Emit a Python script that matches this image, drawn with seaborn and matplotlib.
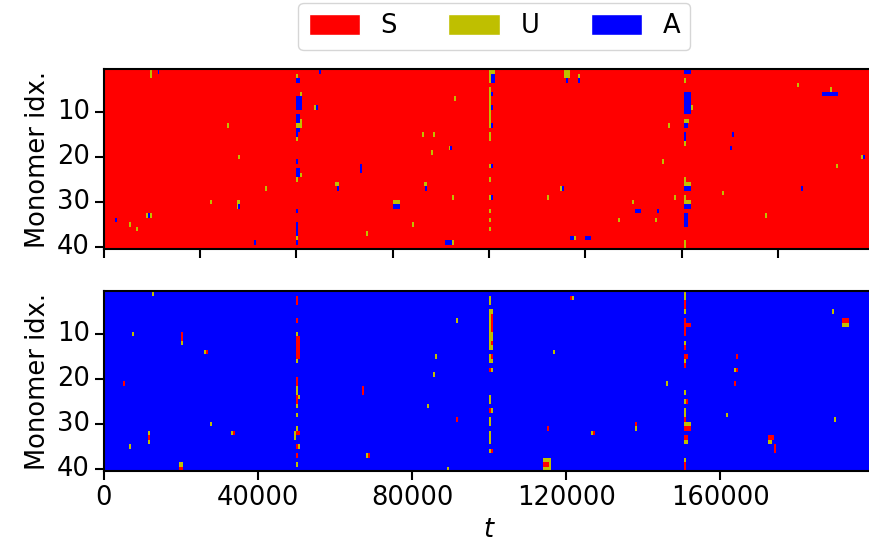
import numpy as np
import seaborn as sns
import matplotlib
matplotlib.use('Agg')
import matplotlib.pyplot as plt
from matplotlib.colors import ListedColormap
from matplotlib.patches import Patch

# states of a monomer and their colours
states = ['S', 'U', 'A']
state_colors = ['red', (0.75, 0.75, 0.0), 'blue']
n_monomers = 40
t_max = 200000
dt = 500

ytick_vals = [10, 20, 30, 40]
top_xtick_vals = [0, 25000, 50000, 75000, 100000, 125000, 150000, 175000]
bot_xtick_vals = [0, 40000, 80000, 120000, 160000]

# events: (t start, t end, first monomer, last monomer)
# top panel: background S
top_U = [
    (50000, 50500, 2, 2), (51000, 51500, 6, 6), (54500, 55000, 9, 9),
    (50000, 50500, 11, 11), (51000, 51500, 12, 12), (50000, 51500, 13, 13),
    (50000, 50500, 16, 16), (51000, 51500, 24, 24), (50000, 50500, 25, 25),
    (50000, 50500, 38, 38),
    (100000, 101500, 1, 3), (100000, 100500, 5, 10), (100000, 100500, 11, 13),
    (100000, 100500, 15, 16), (100000, 101000, 22, 22), (100000, 100500, 25, 25),
    (100000, 101000, 29, 29), (100000, 100500, 32, 32), (100000, 100500, 34, 34),
    (100000, 100500, 36, 36),
    (150500, 151000, 3, 3), (152500, 153000, 9, 9), (150500, 152000, 12, 12),
    (150500, 151000, 17, 17), (150500, 151000, 25, 26), (150500, 152500, 26, 26),
    (150500, 151000, 29, 29), (150500, 152500, 30, 30), (150500, 151000, 39, 40),
    (12000, 12500, 1, 2), (32000, 32500, 13, 13), (35000, 35500, 20, 20),
    (42000, 42500, 27, 27), (27500, 28000, 30, 30), (34500, 35500, 30, 31),
    (11000, 12500, 33, 33), (6500, 7000, 35, 35), (8500, 9000, 36, 36),
    (60000, 61000, 26, 26), (82500, 83000, 15, 15), (85500, 86000, 15, 15),
    (85000, 85500, 19, 19), (89500, 90000, 18, 18), (91000, 91500, 7, 7),
    (83000, 84000, 26, 26), (90500, 91000, 29, 29), (75000, 77000, 30, 30),
    (80000, 80500, 35, 35), (68000, 68500, 37, 37), (90500, 91000, 39, 39),
    (119500, 121000, 1, 2), (123000, 123500, 2, 2), (180000, 180500, 4, 4),
    (188500, 189000, 5, 5), (146500, 147000, 13, 13), (196500, 197000, 20, 20),
    (145000, 145500, 21, 21), (190000, 190500, 22, 22), (118500, 119000, 27, 27),
    (160500, 161000, 28, 28), (115000, 115500, 29, 29), (148000, 148500, 29, 29),
    (137000, 137500, 30, 30), (133500, 134000, 34, 34), (143000, 143500, 34, 34),
    (171500, 172000, 33, 33), (122000, 122500, 38, 38),
]
top_A = [
    (50000, 51000, 3, 3), (50000, 51500, 7, 9), (55000, 55500, 9, 9),
    (50000, 51000, 11, 12), (50000, 50500, 14, 15), (50500, 51000, 14, 14),
    (50000, 50500, 21, 21), (50000, 51000, 23, 24), (50000, 50500, 32, 32),
    (50000, 50500, 35, 37), (50000, 50500, 39, 39), (56000, 56500, 1, 1),
    (100500, 101500, 2, 3), (100500, 101000, 6, 6), (100500, 101000, 9, 9),
    (100500, 101000, 13, 13), (100500, 101000, 22, 22), (100500, 101000, 29, 29),
    (150500, 152500, 1, 1), (150500, 152500, 6, 10), (150500, 151500, 13, 13),
    (150500, 151000, 15, 16), (150500, 152500, 27, 27), (150500, 152500, 31, 31),
    (150500, 151500, 33, 35),
    (14000, 14500, 1, 1), (35000, 35500, 31, 31), (11500, 12000, 33, 33),
    (3000, 3500, 34, 34), (39000, 39500, 39, 39), (66500, 67000, 22, 23),
    (60500, 61000, 27, 27), (90000, 90500, 18, 18), (83500, 84000, 27, 27),
    (75000, 77000, 31, 31), (88500, 90500, 39, 39), (120000, 120500, 3, 3),
    (123000, 123500, 3, 3), (186500, 190500, 6, 6), (163000, 163500, 15, 15),
    (162500, 163000, 18, 18), (197000, 197500, 20, 20), (119000, 119500, 27, 27),
    (181000, 181500, 27, 27), (138000, 139500, 32, 32), (143500, 144000, 32, 32),
    (121000, 122000, 38, 38), (125000, 126500, 38, 38),
]

# bottom panel: background A
bot_U = [
    (12500, 13000, 1, 1), (7500, 8000, 10, 10), (20000, 20500, 12, 12),
    (26000, 27000, 14, 14), (27500, 28000, 30, 30), (33000, 34000, 32, 32),
    (11500, 12000, 32, 34), (6500, 7000, 35, 35), (19500, 20500, 39, 39),
    (50000, 50500, 10, 10), (50500, 51000, 13, 13), (50000, 50500, 16, 16),
    (50000, 50500, 22, 23), (50500, 51000, 24, 24), (50000, 50500, 26, 26),
    (50000, 50500, 28, 28), (50000, 50500, 31, 31), (49500, 50000, 32, 33),
    (50500, 51000, 35, 35), (50000, 50500, 39, 39),
    (68000, 68500, 37, 37), (89000, 89500, 40, 40), (91500, 92000, 7, 7),
    (86000, 86500, 15, 15), (85500, 86000, 19, 19), (84000, 84500, 26, 26),
    (100000, 100500, 2, 3), (100000, 101000, 5, 10), (100000, 101000, 11, 13),
    (100000, 101000, 15, 16), (100500, 101000, 18, 18), (100000, 100500, 24, 25),
    (100500, 101000, 27, 27), (100000, 100500, 29, 30), (100000, 100500, 32, 34),
    (100000, 100500, 36, 36),
    (121500, 122000, 2, 2), (116500, 117000, 14, 14), (146000, 146500, 21, 21),
    (126500, 127500, 32, 32), (138000, 138500, 31, 31), (114000, 116000, 38, 40),
    (150500, 151000, 1, 2), (150500, 151000, 5, 5), (150500, 151000, 12, 12),
    (150500, 151000, 16, 17), (150500, 151000, 23, 23), (150500, 151000, 25, 25),
    (150500, 151000, 27, 28), (150500, 152500, 30, 30), (150500, 151500, 34, 34),
    (150500, 151000, 38, 38),
    (163500, 164500, 18, 18), (161500, 162000, 28, 28), (172500, 173500, 34, 34),
    (189500, 190000, 29, 29), (191500, 193500, 8, 8), (189000, 189500, 5, 5),
]
bot_S = [
    (20000, 20500, 10, 11), (26500, 27000, 14, 14), (5000, 5500, 21, 21),
    (33500, 34000, 32, 32), (11500, 12000, 33, 33), (19500, 20500, 40, 40),
    (50000, 50500, 2, 3), (50000, 50500, 7, 7), (50000, 51000, 11, 15),
    (50000, 50500, 20, 21), (50000, 50500, 24, 25), (50000, 51000, 32, 32),
    (50000, 50500, 35, 35), (50000, 50500, 37, 37),
    (67000, 67500, 22, 23), (68500, 69000, 37, 37), (91500, 92000, 29, 29),
    (100500, 101000, 6, 9), (100500, 101000, 12, 12), (100500, 101000, 15, 15),
    (100000, 100500, 18, 18), (100000, 100500, 27, 27), (100500, 101000, 36, 36),
    (121000, 121500, 2, 2), (115000, 115500, 31, 31), (127000, 127500, 32, 32),
    (138000, 138500, 30, 30), (114000, 115500, 39, 39),
    (150500, 151000, 3, 4), (150500, 151000, 7, 10), (150500, 152500, 8, 8),
    (150500, 151000, 13, 13), (150500, 151500, 15, 15), (150500, 151000, 17, 17),
    (151000, 151500, 25, 25), (150500, 151000, 29, 29), (150500, 152500, 31, 31),
    (150500, 151500, 33, 33), (150500, 151000, 39, 40),
    (164000, 164500, 15, 15), (164000, 164500, 18, 18), (163500, 164000, 21, 21),
    (172500, 174000, 33, 33), (174000, 174500, 35, 36), (191500, 193500, 7, 7),
]


def build_grid(background, layers):
    grid = np.full((n_monomers, t_max // dt), states.index(background))
    for state, events in layers:
        for t0, t1, m0, m1 in events:
            c0 = t0 // dt
            c1 = max(c0 + 1, -(-t1 // dt))
            grid[m0 - 1:m1, c0:c1] = states.index(state)
    return grid


top_grid = build_grid('S', [('U', top_U), ('A', top_A)])
bot_grid = build_grid('A', [('U', bot_U), ('S', bot_S)])

sns.set_style('ticks', {'axes.edgecolor': 'black', 'text.color': 'black',
                        'xtick.color': 'black', 'ytick.color': 'black',
                        'axes.labelcolor': 'black'})
plt.rcParams['font.family'] = ['DejaVu Sans']
plt.rcParams['font.size'] = 18.5

fig = plt.figure(figsize=(8.69, 5.5), dpi=100)
ax_top = fig.add_axes([0.1192, 0.5468, 0.8871, 0.3273])
ax_bot = fig.add_axes([0.1192, 0.1432, 0.8871, 0.3273])
cmap = ListedColormap(state_colors)

for ax, grid in [(ax_top, top_grid), (ax_bot, bot_grid)]:
    sns.heatmap(grid, ax=ax, cmap=cmap, vmin=-0.5, vmax=2.5, cbar=False)
    for sp in ax.spines.values():
        sp.set_visible(True)
        sp.set_linewidth(1.5)
        sp.set_color('black')
    ax.set_yticks(np.array(ytick_vals) - 0.5, labels=[str(v) for v in ytick_vals],
                  rotation=0, fontsize=18.5)
    ax.set_ylabel('Monomer idx.', fontsize=18.5)
    ax.tick_params(length=6.5, width=1.5, direction='out')

ax_top.set_xticks(np.array(top_xtick_vals) / dt, labels=[])
ax_top.set_xlabel('')
ax_bot.set_xticks(np.array(bot_xtick_vals) / dt,
                  labels=[str(v) for v in bot_xtick_vals], rotation=0, fontsize=18.5)
ax_bot.set_xlabel('$t$', fontsize=18.5)

handles = [Patch(facecolor=c, label=s) for s, c in zip(states, state_colors)]
fig.legend(handles=handles, loc='center', bbox_to_anchor=(0.569, 0.952), ncol=3,
           fontsize=18.5, handleheight=0.85, frameon=True)

fig.savefig('out.png', dpi=100)
